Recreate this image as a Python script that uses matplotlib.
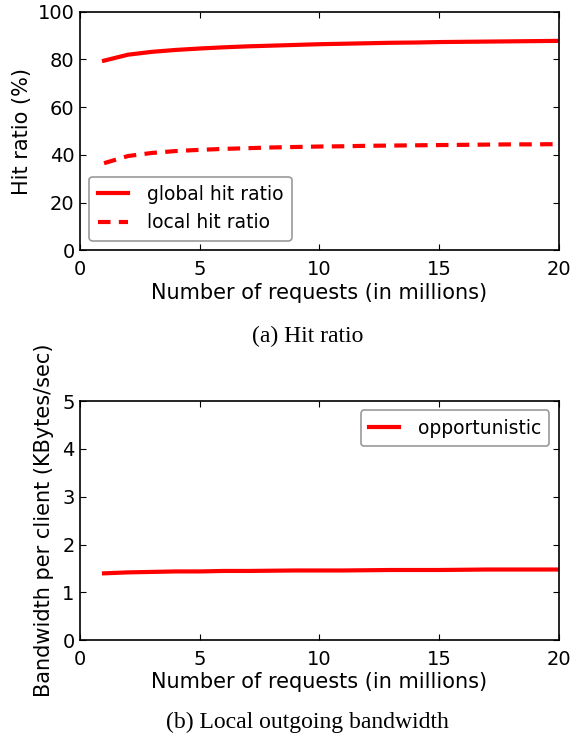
import matplotlib
matplotlib.use("Agg")
import matplotlib.pyplot as plt

# data
requests = list(range(1, 21))
global_hit = [79.5, 82.0, 83.2, 84.0, 84.6, 85.1, 85.5, 85.8, 86.1, 86.4,
              86.6, 86.8, 87.0, 87.1, 87.3, 87.4, 87.5, 87.6, 87.7, 87.8]
local_hit = [36.5, 39.5, 40.8, 41.6, 42.1, 42.5, 42.8, 43.1, 43.3, 43.5,
             43.6, 43.8, 43.9, 44.0, 44.1, 44.2, 44.3, 44.4, 44.4, 44.5]
bandwidth = [1.40, 1.42, 1.43, 1.44, 1.44, 1.45, 1.45, 1.455, 1.46, 1.46,
             1.46, 1.465, 1.47, 1.47, 1.47, 1.475, 1.48, 1.48, 1.48, 1.48]

plt.rcParams['font.family'] = 'DejaVu Sans'
plt.rcParams['font.size'] = 14
plt.rcParams['axes.labelsize'] = 15
plt.rcParams['xtick.direction'] = 'in'
plt.rcParams['ytick.direction'] = 'in'
plt.rcParams['xtick.top'] = True
plt.rcParams['ytick.right'] = True
plt.rcParams['xtick.major.size'] = 4
plt.rcParams['ytick.major.size'] = 4
plt.rcParams['xtick.major.pad'] = 7
plt.rcParams['ytick.major.pad'] = 4

fig = plt.figure(figsize=(5.72, 7.36), dpi=100)
ax1 = fig.add_axes([0.14, 0.660, 0.837, 0.324])
ax2 = fig.add_axes([0.14, 0.130, 0.837, 0.325])

#---------------HIT RATIO---------------#
ax1.plot(requests, global_hit, color='red', lw=3, label='global hit ratio')
ax1.plot(requests, local_hit, color='red', lw=3, ls='--', dashes=(3, 2),
         label='local hit ratio')
ax1.set_xlim(0, 20)
ax1.set_ylim(0, 100)
ax1.set_xticks([0, 5, 10, 15, 20])
ax1.set_yticks([0, 20, 40, 60, 80, 100])
ax1.set_xlabel('Number of requests (in millions)', labelpad=3)
ax1.set_ylabel('Hit ratio (%)', labelpad=4)
leg = ax1.legend(loc='lower left', handlelength=1.6, handletextpad=1.0,
                 fancybox=True, borderpad=0.45, fontsize=13.5,
                 borderaxespad=0.5)
leg.get_frame().set_edgecolor('gray')
leg.get_frame().set_linewidth(1.2)

#---------------BANDWIDTH---------------#
ax2.plot(requests, bandwidth, color='red', lw=3, label='opportunistic')
ax2.set_xlim(0, 20)
ax2.set_ylim(0, 5)
ax2.set_xticks([0, 5, 10, 15, 20])
ax2.set_yticks([0, 1, 2, 3, 4, 5])
ax2.set_xlabel('Number of requests (in millions)', labelpad=2)
ax2.set_ylabel('Bandwidth per client (KBytes/sec)', labelpad=6)
leg2 = ax2.legend(loc='upper right', handlelength=1.6, handletextpad=1.0,
                  fancybox=True, borderpad=0.45, fontsize=13.5,
                  borderaxespad=0.5)
leg2.get_frame().set_edgecolor('gray')
leg2.get_frame().set_linewidth(1.2)

for ax in (ax1, ax2):
    for s in ax.spines.values():
        s.set_linewidth(1.2)

fig.text(0.538, 1 - 336 / 736, '(a) Hit ratio', ha='center', va='center',
         family='Liberation Serif', fontsize=17)
fig.text(0.538, 1 - 722 / 736, '(b) Local outgoing bandwidth', ha='center',
         va='center', family='Liberation Serif', fontsize=17)

fig.savefig('out.png', dpi=100)
